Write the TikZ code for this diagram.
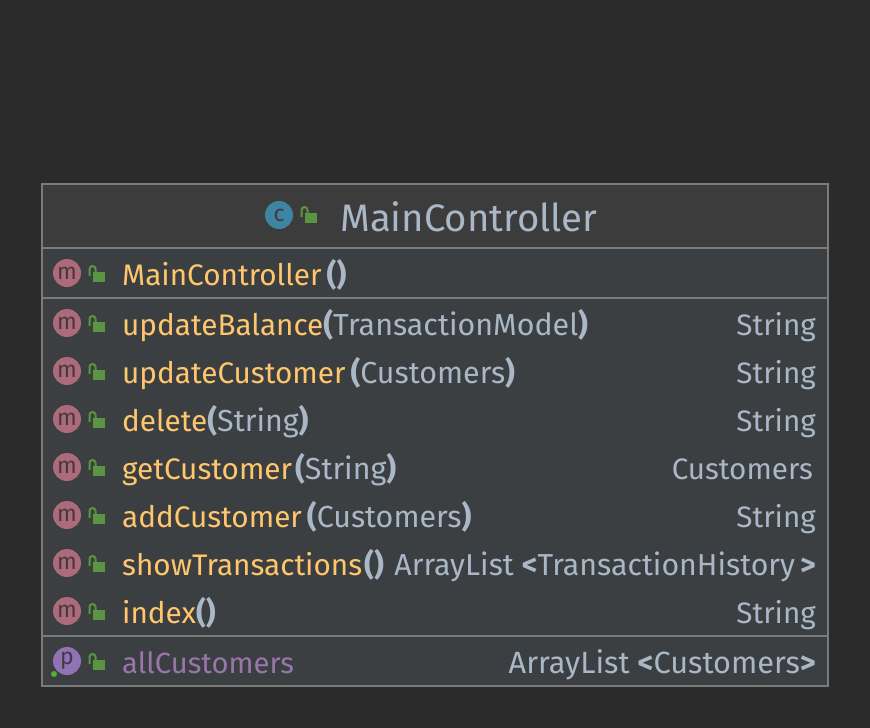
\documentclass[tikz,border=0pt]{standalone}
\usepackage{fontspec}
\setmainfont{Fira Sans}
\usepackage{tikz}

\definecolor{bgcol}{HTML}{2B2B2B}
\definecolor{headcol}{HTML}{3C3C3C}
\definecolor{rowcol}{HTML}{3C3F41}
\definecolor{linecol}{HTML}{7B7B7B}
\definecolor{textcol}{HTML}{A9B7C6}
\definecolor{methcol}{HTML}{FFC66D}
\definecolor{fieldcol}{HTML}{9876AA}
\definecolor{mcol}{HTML}{AD6A7B}
\definecolor{pcol}{HTML}{9073B5}
\definecolor{ccol}{HTML}{3C86A3}
\definecolor{lockcol}{HTML}{5A9642}
\definecolor{dotcol}{HTML}{4FAF3F}
\definecolor{lettercol}{HTML}{46383F}

\tikzset{
  badge/.style={circle,minimum size=28pt,inner sep=0pt,text=lettercol,font=\fontsize{23}{23}\selectfont},
  membername/.style={anchor=base west,inner sep=0pt,text=textcol,font=\fontsize{30.4}{32}\selectfont},
  membertype/.style={anchor=base east,inner sep=0pt,text=textcol,font=\fontsize{29.6}{32}\selectfont},
  pics/openlock/.style={code={
    \fill[lockcol] (0,0) rectangle (12,10);
    \draw[lockcol,line width=2pt] (-3.5,4) -- (-3.5,-3) arc[start angle=180,end angle=360,radius=3] -- (2.5,0);
  }}
}
\newcommand{\meth}[1]{\textcolor{methcol}{\fontsize{29.7}{32}\selectfont #1}}

\begin{document}
\begin{tikzpicture}[x=1pt,y=-1pt]

\fill[bgcol] (0,0) rectangle (870,728);
\useasboundingbox (0,0) rectangle (870,728);

% class box
\fill[headcol] (42,184) rectangle (828,248);
\fill[rowcol] (42,248) rectangle (828,686);
\draw[linecol,line width=1.2pt] (42,184) rectangle (828,686);
\draw[linecol,line width=1.6pt] (42,248) -- (828,248);
\draw[linecol,line width=1.6pt] (42,298) -- (828,298);
\draw[linecol,line width=1.6pt] (42,636) -- (828,636);

% title
\node[badge,fill=ccol] (classicon) at (279,215) {c};
\pic at (305,213) {openlock};
\node[membername,font=\fontsize{38.3}{40}\selectfont] (classname) at (340,231) {MainController};

% constructor
\node[badge,fill=mcol] (ctoricon) at (67,273) {m};
\pic at (93,272) {openlock};
\node[membername] (ctor) at (122,285) {\meth{MainController}\,\textbf{()}};

% methods
\node[badge,fill=mcol] (balanceicon) at (67,323) {m};
\pic at (93,322) {openlock};
\node[membername] (balance) at (122,335) {\meth{updateBalance}\textbf{(}TransactionModel\textbf{)}};
\node[membertype] (balancetype) at (816,335) {String};

\node[badge,fill=mcol] (updateicon) at (67,371) {m};
\pic at (93,370) {openlock};
\node[membername] (update) at (122,383) {\meth{updateCustomer}\,\textbf{(}Customers\textbf{)}};
\node[membertype] (updatetype) at (816,383) {String};

\node[badge,fill=mcol] (deleteicon) at (67,419) {m};
\pic at (93,418) {openlock};
\node[membername] (delete) at (122,431) {\meth{delete}\textbf{(}String\textbf{)}};
\node[membertype] (deletetype) at (816,431) {String};

\node[badge,fill=mcol] (geticon) at (67,467) {m};
\pic at (93,466) {openlock};
\node[membername] (get) at (122,479) {\meth{getCustomer}\hspace{3pt}\textbf{(}String\textbf{)}};
\node[membertype] (gettype) at (813,479) {Customers};

\node[badge,fill=mcol] (addicon) at (67,515) {m};
\pic at (93,514) {openlock};
\node[membername] (add) at (122,527) {\meth{addCustomer}\,\textbf{(}Customers\textbf{)}};
\node[membertype] (addtype) at (816,527) {String};

\node[badge,fill=mcol] (showicon) at (67,563) {m};
\pic at (93,562) {openlock};
\node[membername] (show) at (122,575) {\meth{showTransactions}\hspace{2pt}\textbf{()}};
\node[membertype,font=\fontsize{30.3}{32}\selectfont] (showtype) at (816,575) {ArrayList \textbf{<}TransactionHistory\,\textbf{>}};

\node[badge,fill=mcol] (indexicon) at (67,611) {m};
\pic at (93,610) {openlock};
\node[membername] (index) at (122,623) {\meth{index}\textbf{()}};
\node[membertype] (indextype) at (816,623) {String};

% field
\node[badge,fill=pcol] (fieldicon) at (67,661) {p};
\fill[dotcol] (54,674) circle (3);
\pic at (93,660) {openlock};
\node[membername,text=fieldcol,font=\fontsize{29.2}{32}\selectfont] (field) at (122,673) {allCustomers};
\node[membertype,font=\fontsize{30.7}{32}\selectfont] (fieldtype) at (816,673) {ArrayList \textbf{<}Customers\textbf{>}};

\end{tikzpicture}
\end{document}
